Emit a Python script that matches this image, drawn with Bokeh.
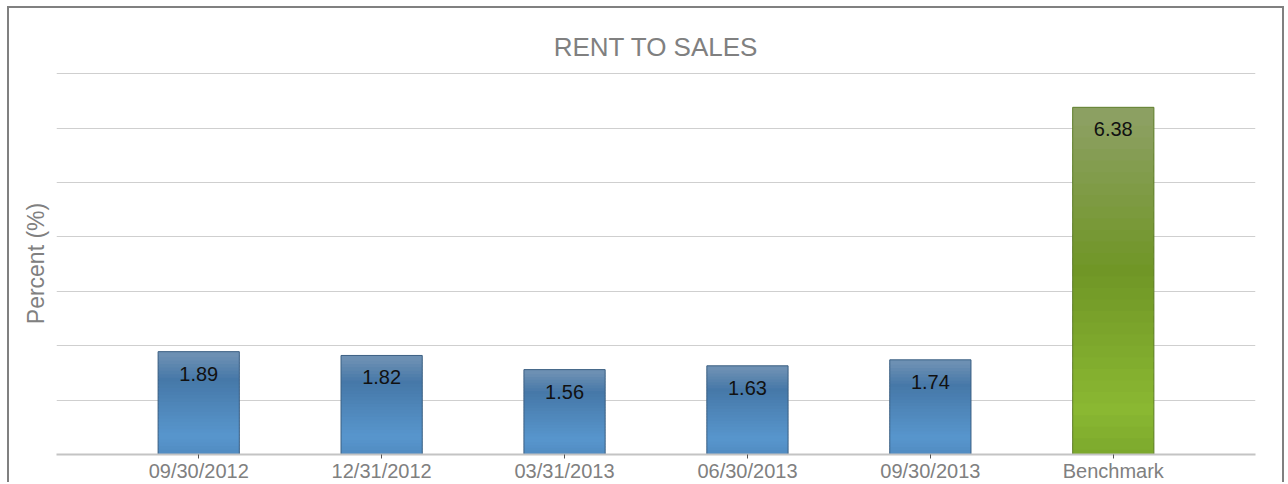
from bokeh.plotting import figure
from bokeh.models import FactorRange, Range1d, FixedTicker, ColumnDataSource, Title
from bokeh.core.properties import value
from bokeh.embed import file_html
from bokeh.resources import INLINE

# ---- data ----
categories = ["09/30/2012", "12/31/2012", "03/31/2013", "06/30/2013", "09/30/2013", "Benchmark"]
values = [1.89, 1.82, 1.56, 1.63, 1.74, 6.38]
labels = ["1.89", "1.82", "1.56", "1.63", "1.74", "6.38"]
kinds = ["blue", "blue", "blue", "blue", "blue", "green"]
y_ticks = [0, 1, 2, 3, 4, 5, 6, 7]

FONT = "Liberation Sans"
GREY = "#808080"

# gradient stops (t = 0 at bar top, 1 at bottom)
STOPS = {
    "blue": [(0.0, (112, 146, 180)), (0.25, (70, 120, 168)), (0.8, (88, 150, 205)), (1.0, (80, 138, 192))],
    "green": [(0.0, (141, 160, 100)), (0.45, (112, 150, 38)), (0.85, (138, 184, 50)), (1.0, (122, 166, 44))],
}
EDGE = {"blue": "#3b5f82", "green": "#5e7d2a"}


def grad(kind, t):
    s = STOPS[kind]
    for (t0, c0), (t1, c1) in zip(s[:-1], s[1:]):
        if t0 <= t <= t1:
            f = (t - t0) / (t1 - t0)
            c = [round(a + (b - a) * f) for a, b in zip(c0, c1)]
            return "#%02x%02x%02x" % tuple(c)
    return "#%02x%02x%02x" % s[-1][1]


p = figure(
    x_range=FactorRange(*categories, range_padding=0.2775, range_padding_units="absolute"),
    y_range=Range1d(0, 7.02),
    width=1277, height=476,
    output_backend="svg", toolbar_location=None,
    title="RENT TO SALES",
    min_border_left=47, min_border_right=31, min_border_top=64, min_border_bottom=27,
)
p.styles = {"margin-left": "7px", "margin-top": "6px",
            "border-left": "2px solid #808080", "border-top": "2px solid #808080",
            "border-right": "2px solid #808080"}
p.outline_line_color = None
p.background_fill_color = "white"
p.border_fill_color = "white"

p.title.align = "center"
p.title.text_font = FONT
p.title.text_font_size = "26px"
p.title.text_font_style = "normal"
p.title.text_color = GREY
p.title.standoff = 21

ylab = Title(text="Percent (%)", align="center", text_font=FONT, text_font_size="23px",
             text_font_style="normal", text_color=GREY, standoff=16)
p.add_layout(ylab, "left")

# gradient bars built as overlapping bands of each bar's own height
N = 30
bx, bb, bt, bc = [], [], [], []
for cat, v, k in zip(categories, values, kinds):
    for i in range(N):
        t = 1 - (i + 0.5) / N
        bx.append(cat)
        bb.append(max(0.0, v * (i - 0.6) / N))
        bt.append(v * (i + 1) / N)
        bc.append(grad(k, t))
p.vbar(x=bx, bottom=bb, top=bt, width=0.444, fill_color=bc, line_color=None)

src = ColumnDataSource(dict(x=categories, top=values, lab=labels,
                            edge=[EDGE[k] for k in kinds]))
p.vbar(x="x", top="top", bottom=0, width=0.444, source=src, fill_color=None,
       line_color="edge", line_width=1)

p.text(x="x", y="top", text="lab", source=src, text_align="center", text_baseline="middle",
       y_offset=22, text_font=value(FONT), text_font_size="20px", text_color="#111111")

# grid
p.xgrid.grid_line_color = None
p.yaxis.visible = False
p.ygrid.ticker = FixedTicker(ticks=y_ticks)
p.ygrid.grid_line_color = "#cfcfcf"
p.ygrid.grid_line_width = 1

# x axis
p.xaxis.axis_line_color = "#c4c4c4"
p.xaxis.axis_line_width = 2
p.xaxis.major_tick_line_color = "#555555"
p.xaxis.major_tick_out = 4
p.xaxis.major_tick_in = 0
p.xaxis.major_label_standoff = 1
p.xaxis.major_label_text_font = FONT
p.xaxis.major_label_text_font_size = "20px"
p.xaxis.major_label_text_color = GREY

open("out.html", "w").write(file_html(p, INLINE))
